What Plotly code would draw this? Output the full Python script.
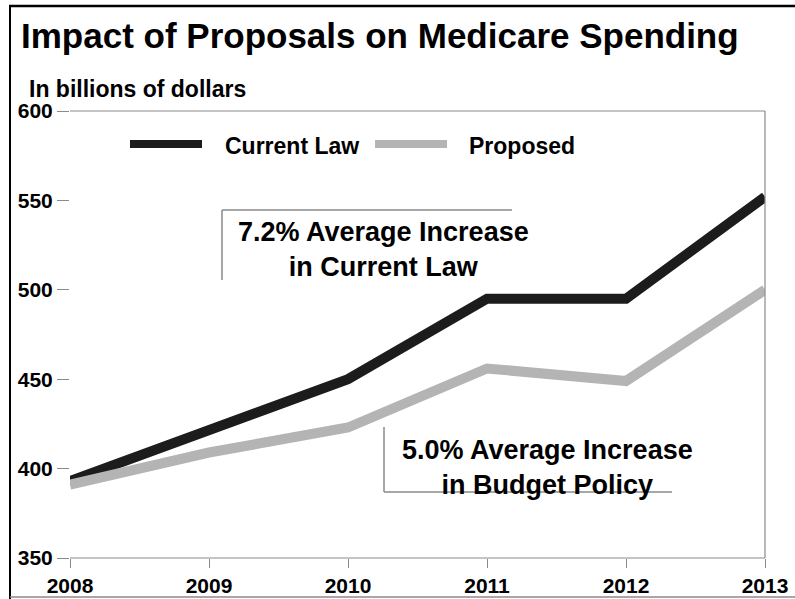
import plotly.graph_objects as go

years = [2008, 2009, 2010, 2011, 2012, 2013]
current_law = [393, 422, 450, 495, 495, 552]
proposed = [391, 409, 423, 456, 449, 500]
y_ticks = [350, 400, 450, 500, 550, 600]
title = "Impact of Proposals on Medicare Spending"
subtitle = "In billions of dollars"
series_names = ["Current Law", "Proposed"]
note_current = "7.2% Average Increase<br>in Current Law"
note_proposed = "5.0% Average Increase<br>in Budget Policy"

W, H = 795, 599
L, R, T, B = 70, 30, 111, 41
PW, PH = W - L - R, H - T - B


def px(x):
    return (x - L) / PW


def py(y):
    return 1 - (y - T) / PH


FONT = "Liberation Sans, Arial, sans-serif"
dark = "#1c1c1c"
light = "#b4b4b4"
gray = "#8a8a8a"

fig = go.Figure()
fig.add_trace(go.Scatter(x=years, y=current_law, mode="lines", name=series_names[0],
                         line=dict(color=dark, width=10), showlegend=False))
fig.add_trace(go.Scatter(x=years, y=proposed, mode="lines", name=series_names[1],
                         line=dict(color=light, width=10), showlegend=False))


def pline(x0, y0, x1, y1, color, width):
    return dict(type="line", xref="paper", yref="paper", x0=px(x0), x1=px(x1),
                y0=py(y0), y1=py(y1), line=dict(color=color, width=width))


shapes = []
# frame lines of plot
shapes.append(dict(type="line", xref="paper", yref="paper", x0=0, x1=1, y0=1, y1=1,
                   line=dict(color=gray, width=1.2)))
shapes.append(dict(type="line", xref="paper", yref="paper", x0=0, x1=1, y0=0, y1=0,
                   line=dict(color=gray, width=1.2)))
shapes.append(dict(type="line", xref="paper", yref="paper", x0=1, x1=1, y0=0, y1=1,
                   line=dict(color=gray, width=1.2)))
# outer figure border
shapes.append(pline(10, 6, 10, 610, "black", 2))
shapes.append(pline(9, 6, 800, 6, "black", 2.5))
shapes.append(pline(10, 597, 800, 597, gray, 1.5))
# legend swatches
shapes.append(pline(130, 144, 202, 144, dark, 8))
shapes.append(pline(375, 144, 447, 144, light, 8))
# note boxes
shapes.append(pline(222, 210, 512, 210, gray, 1.5))
shapes.append(pline(222, 210, 222, 280, gray, 1.5))
shapes.append(pline(384, 427, 384, 492, gray, 1.5))
shapes.append(pline(384, 492, 672, 492, gray, 1.5))


def ann(text, x, y, size, xanchor="left"):
    return dict(text="<b>" + text + "</b>", xref="paper", yref="paper", x=px(x), y=py(y),
                xanchor=xanchor, yanchor="middle", showarrow=False, align="center",
                font=dict(size=size, color="black", family=FONT))


annotations = [
    ann(title, 19, 35, 35),
    ann(subtitle, 27, 89, 23),
    ann(series_names[0], 223, 146, 23),
    ann(series_names[1], 467, 146, 23),
    ann(note_current, 383, 249, 27, "center"),
    ann(note_proposed, 547, 467, 27, "center"),
]

fig.update_layout(
    width=W, height=H,
    margin=dict(l=L, r=R, t=T, b=B, autoexpand=False),
    paper_bgcolor="white", plot_bgcolor="white",
    shapes=shapes, annotations=annotations,
    showlegend=False,
    xaxis=dict(range=[2008, 2013], tickvals=years, ticktext=[str(y) for y in years],
               showgrid=False, zeroline=False, showline=False,
               ticks="outside", ticklen=9, tickcolor=gray, tickwidth=1,
               ticklabelstandoff=0),
    yaxis=dict(range=[350, 600], tickvals=y_ticks,
               showgrid=False, zeroline=False, showline=False,
               ticks="outside", ticklen=12, tickcolor=gray, tickwidth=1),
)
fig.update_xaxes(tickfont=dict(size=21, color="black", family=FONT, weight="bold"))
fig.update_yaxes(tickfont=dict(size=21, color="black", family=FONT, weight="bold"))

fig.write_html("out.html", config={"displayModeBar": False},
               post_script="document.body.style.margin='0';document.body.style.overflow='hidden';")
